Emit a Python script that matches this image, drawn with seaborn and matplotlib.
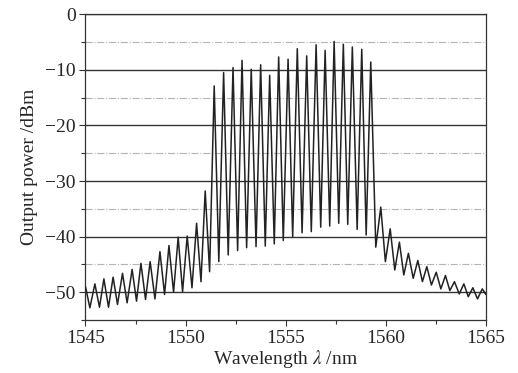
"""
Output spectrum of a multiwavelength fibre laser (seaborn redraw)
"""

import matplotlib
matplotlib.use("Agg")
import matplotlib.pyplot as plt
from matplotlib.ticker import MultipleLocator
import pandas as pd
import seaborn as sns

# Peak positions (nm) and peak powers (dBm)
peak_nm = [
    1545.47, 1545.92, 1546.38, 1546.85, 1547.33, 1547.77, 1548.23, 1548.72,
    1549.17, 1549.63, 1550.08, 1550.55, 1550.98,
    1551.43, 1551.90, 1552.37, 1552.82, 1553.28, 1553.75, 1554.20, 1554.65,
    1555.12, 1555.58, 1556.05, 1556.52, 1556.97, 1557.42, 1557.88, 1558.33,
    1558.80, 1559.25,
    1559.75, 1560.22, 1560.68, 1561.13, 1561.60, 1562.05, 1562.52, 1562.98,
    1563.43, 1563.90, 1564.35, 1564.82,
]
peak_dbm = [
    -48.5, -47.6, -47.3, -46.6, -45.9, -44.8, -44.5, -42.7,
    -41.6, -40.1, -39.9, -37.6, -31.8,
    -12.9, -10.5, -9.6, -8.3, -9.9, -9.1, -11.0, -7.7,
    -8.1, -6.2, -7.5, -5.5, -6.5, -4.9, -5.4, -5.9,
    -6.3, -8.6,
    -34.7, -38.6, -41.0, -43.0, -44.3, -45.4, -46.4, -47.0,
    -48.1, -48.5, -49.2, -49.4,
]

# Valley (inter-channel floor) positions and powers
valley_nm = [
    1545.22, 1545.70, 1546.15, 1546.60, 1547.08, 1547.55, 1548.00, 1548.47,
    1548.95, 1549.40, 1549.85, 1550.32, 1550.77, 1551.20, 1551.66, 1552.13,
    1552.60, 1553.05, 1553.52, 1553.98, 1554.43, 1554.88, 1555.35, 1555.82,
    1556.28, 1556.75, 1557.20, 1557.65, 1558.10, 1558.57, 1559.02, 1559.50,
    1559.98, 1560.45, 1560.90, 1561.37, 1561.83, 1562.28, 1562.75, 1563.20,
    1563.67, 1564.12, 1564.58,
]
valley_dbm = [
    -52.8, -52.7, -52.7, -52.2, -51.9, -51.6, -51.3, -51.2,
    -50.4, -50.0, -49.9, -49.2, -48.1, -46.3, -44.5, -43.3,
    -42.5, -42.0, -41.8, -41.7, -41.3, -40.7, -40.0, -39.3,
    -39.1, -38.3, -38.1, -37.6, -37.8, -38.7, -39.7, -41.9,
    -44.5, -46.0, -46.9, -47.5, -48.1, -48.7, -49.4, -49.7,
    -50.3, -50.8, -51.2,
]

# Trace values at the window edges
edge_nm = [1545.0, 1565.0]
edge_dbm = [-49.0, -50.4]

spectrum = pd.DataFrame({
    "wavelength": peak_nm + valley_nm + edge_nm,
    "power": peak_dbm + valley_dbm + edge_dbm,
}).sort_values("wavelength")

sns.set_theme(style="ticks")
plt.rcParams["font.family"] = ["Liberation Serif", "DejaVu Serif"]
plt.rcParams["mathtext.fontset"] = "stix"

fig, ax = plt.subplots(figsize=(5.18, 3.73), dpi=100)
fig.subplots_adjust(left=0.165, right=0.938, top=0.962, bottom=0.142)

sns.lineplot(data=spectrum, x="wavelength", y="power", estimator=None,
             color="#222222", linewidth=1.1, ax=ax, zorder=3)

ax.set_xlim(1545, 1565)
ax.set_ylim(-55, 0)
ax.xaxis.set_major_locator(MultipleLocator(5))
ax.xaxis.set_minor_locator(MultipleLocator(2.5))
ax.yaxis.set_major_locator(MultipleLocator(10))
ax.yaxis.set_minor_locator(MultipleLocator(5))

# horizontal grid: solid at the decades, dash-dot in between
ax.yaxis.grid(True, which="major", color="#333333", linewidth=1.0, linestyle="-")
ax.yaxis.grid(True, which="minor", color="#b4b4b4", linewidth=0.8, linestyle="-.")
ax.xaxis.grid(False)

for side in ["top", "right", "bottom", "left"]:
    ax.spines[side].set_visible(True)
    ax.spines[side].set_color("#333333")
    ax.spines[side].set_linewidth(0.9)

ax.tick_params(which="major", direction="out", length=4, width=0.8,
               color="#333333", labelsize=14, pad=3)
ax.tick_params(which="minor", direction="out", length=3, width=0.8,
               color="#333333")

ax.set_xlabel(r"Wavelength $\lambda$ /nm", fontsize=14, labelpad=1)
ax.set_ylabel("Output power /dBm", fontsize=14, labelpad=5)

plt.savefig("out.png", dpi=100)
